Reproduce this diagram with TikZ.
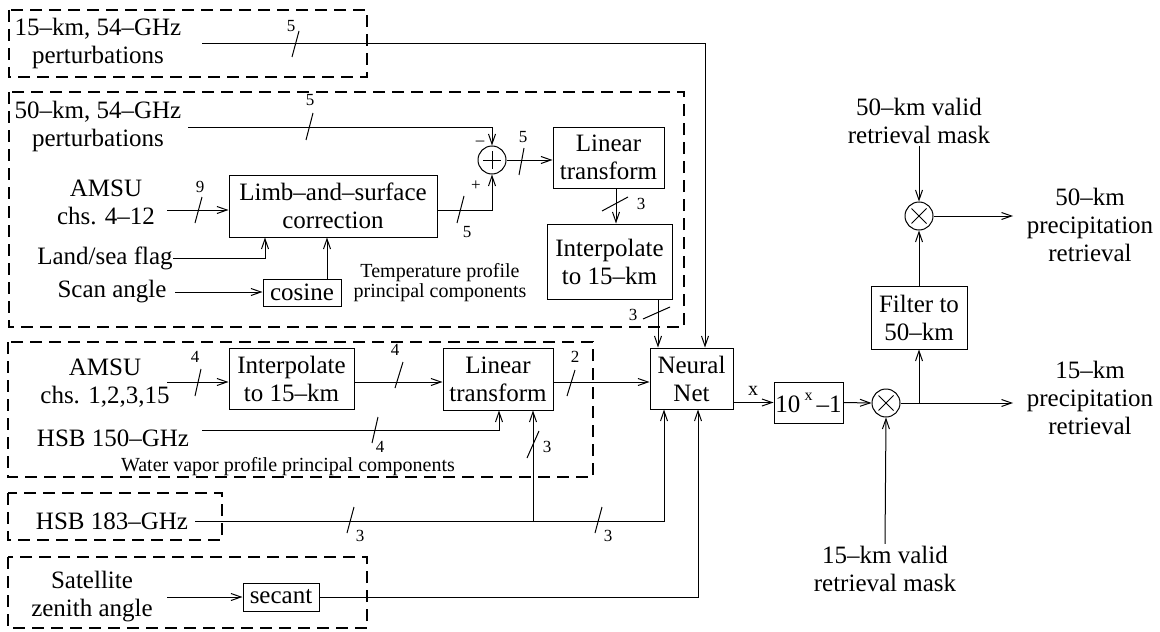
\documentclass[tikz,border=0pt]{standalone}
\usepackage{fontspec}
\setmainfont{Liberation Serif}
\usetikzlibrary{arrows.meta,calc,positioning}

\begin{document}
\begin{tikzpicture}[x=0.5pt,y=-0.5pt,
  font=\fontsize{12.5}{14}\selectfont,
  blk/.style={draw,line width=0.5pt,inner sep=0pt,align=center},
  sumnode/.style={draw,circle,line width=0.5pt,minimum size=14pt,inner sep=0pt},
  lbl/.style={align=center,inner sep=1pt},
  small/.style={align=center,inner sep=0pt,font=\fontsize{10}{10}\selectfont},
  bus/.style={inner sep=0pt,font=\fontsize{8.5}{9}\selectfont},
  grp/.style={line width=1pt,dash pattern=on 6pt off 3.5pt},
  conn/.style={line width=0.5pt,-{Straight Barb[length=5pt,width=3.5pt]}},
  wire/.style={line width=0.5pt}]
  \useasboundingbox (0,0) rectangle (1160,631);

  % group frames
  \draw[grp] (9,10) rectangle (367,77);
  \draw[grp] (9,92) rectangle (684,327);
  \draw[grp] (8,342) rectangle (593,477);
  \draw[grp] (8,493) rectangle (222,540);
  \draw[grp] (8,557) rectangle (367,628);

  % inputs
  \node[lbl] (in15) at (98,43) {15--km, 54--GHz\\perturbations};
  \node[lbl] (in50) at (98,126) {50--km, 54--GHz\\perturbations};
  \node[lbl] (amsuT) at (106,202) {AMSU\\chs. 4--12};
  \node[lbl] (land) at (105,258) {Land/sea flag};
  \node[lbl] (scan) at (112,292) {Scan angle};
  \node[lbl] (amsuW) at (105,383) {AMSU\\chs. 1,2,3,15};
  \node[lbl] (hsb150) at (113,438) {HSB 150--GHz};
  \node[lbl] (hsb183) at (112,521) {HSB 183--GHz};
  \node[lbl] (sat) at (92,597) {Satellite\\zenith angle};

  % processing blocks
  \node[blk,minimum width=104pt,minimum height=31pt] (limb) at (333,206) {Limb--and--surface\\correction};
  \node[sumnode] (sum) at (492,160) {};
  \node[blk,minimum width=55.5pt,minimum height=30.5pt] (linT) at (608.5,157.5) {Linear\\transform};
  \node[blk,minimum width=62.5pt,minimum height=37.5pt] (intT) at (609.5,261.5) {Interpolate\\to 15--km};
  \node[blk,minimum width=39pt,minimum height=13.5pt] (cosine) at (302,292.5) {cosine};
  \node[small] (tempLbl) at (440,283) {Temperature profile\\principal components};
  \node[blk,minimum width=62.5pt,minimum height=30.5pt] (intW) at (291.5,378.5) {Interpolate\\to 15--km};
  \node[blk,minimum width=55pt,minimum height=31pt] (linW) at (498,379) {Linear\\transform};
  \node[small] (wvLbl) at (288,467) {Water vapor profile principal components};
  \node[blk,minimum width=38pt,minimum height=14pt] (secant) at (281,597) {secant};
  \node[blk,minimum width=41.5pt,minimum height=30.5pt] (nn) at (691.5,378.5) {Neural\\Net};
  \node[blk,minimum width=34.5pt,minimum height=20.5pt] (pow) at (808.5,402.5)
    {10\,\raisebox{6pt}{\fontsize{8}{8}\selectfont x}\,--1};
  \node[sumnode] (mulB) at (886,403) {};
  \node[blk,minimum width=48pt,minimum height=31.5pt] (filt) at (919,317.5) {Filter to\\50--km};
  \node[sumnode] (mulA) at (919,216) {};

  % masks and outputs
  \node[lbl] (mask50) at (919,121) {50--km valid\\retrieval mask};
  \node[lbl] (mask15) at (885,569) {15--km valid\\retrieval mask};
  \node[lbl] (out50) at (1090,225) {50--km\\precipitation\\retrieval};
  \node[lbl] (out15) at (1090,398) {15--km\\precipitation\\retrieval};

  % plus and times marks
  \draw[wire] ($(sum)+(-9,0)$) -- ($(sum)+(9,0)$) ($(sum)+(0,-9)$) -- ($(sum)+(0,9)$);
  \draw[wire] ($(mulA)+(-7.5,-7.5)$) -- ($(mulA)+(7.5,7.5)$) ($(mulA)+(-7.5,7.5)$) -- ($(mulA)+(7.5,-7.5)$);
  \draw[wire] ($(mulB)+(-7.5,-7.5)$) -- ($(mulB)+(7.5,7.5)$) ($(mulB)+(-7.5,7.5)$) -- ($(mulB)+(7.5,-7.5)$);
  \node[bus] (minus) at (480,143) {--};
  \node[bus] (plus) at (476,186) {+};

  % connectors
  \coordinate (s15) at (202,44);
  \draw[conn] (s15) -| ($(nn.north)+(13.5,0)$);
  \coordinate (s50) at (188,127);
  \draw[conn] (s50) -| (sum.north);
  \coordinate (sT) at (167,210);
  \draw[conn] (sT) -- (sT -| limb.west);
  \draw[conn] ($(limb.east)+(0,4)$) -| (sum.south);
  \draw[conn] (sum.east) -- (sum.east -| linT.west);
  \draw[conn] ($(linT.south)+(7.5,0)$) -- ($(intT.north)+(6.5,0)$);
  \draw[conn] ($(intT.south)+(48.5,0)$) -- ($(nn.north)+(-33.5,0)$);
  \coordinate (sL) at (173,258);
  \draw[conn] (sL) -| ($(limb.south)+(-68,0)$);
  \coordinate (sS) at (175,292);
  \draw[conn] (sS) -- (sS -| cosine.west);
  \draw[conn] ($(cosine.north)+(25,0)$) -- ($(limb.south)+(-6,0)$);
  \coordinate (sW) at (167,382);
  \draw[conn] (sW) -- (sW -| intW.west);
  \draw[conn] ($(intW.east)+(0,3.5)$) -- ($(linW.west)+(0,3)$);
  \coordinate (sH) at (202,430);
  \draw[conn] (sH) -| ($(linW.south)+(1,0)$);
  \draw[conn] ($(linW.east)+(0,3)$) -- ($(nn.west)+(0,3.5)$);
  \coordinate (sG) at (195,521);
  \draw[conn] (sG) -| ($(nn.south)+(-27.5,0)$);
  \coordinate (brTop) at ($(linW.south)+(35,0)$);
  \draw[conn] (brTop |- sG) -- (brTop);
  \coordinate (sZ) at (167,597);
  \draw[conn] (sZ) -- (sZ -| secant.west);
  \draw[conn] (secant.east) -| ($(nn.south)+(6.5,0)$);
  \draw[conn] (pow.west -| nn.east) -- (pow.west);
  \node[bus,font=\fontsize{10}{10}\selectfont] (xl) at (753,391) {x};
  \draw[conn] (pow.east) -- (mulB.west);
  \draw[conn] (mask15.north) -- (mulB.south);
  \coordinate (o15) at (1013,403);
  \draw[conn] (mulB.east) -- (o15);
  \draw[conn] (mulB.east -| filt.south) -- (filt.south);
  \draw[conn] (filt.north) -- (mulA.south);
  \draw[conn] (mask50.south) -- (mulA.north);
  \coordinate (o50) at (1013,216);
  \draw[conn] (mulA.east) -- (o50);

  % bus widths
  \draw[wire] (292,57) -- (299,31);   \node[bus] (w1) at (291,26) {5};
  \draw[wire] (306,140) -- (313,113); \node[bus] (w2) at (310,100) {5};
  \draw[wire] (195,223) -- (202,197); \node[bus] (w3) at (200,187) {9};
  \draw[wire] (457,223) -- (464,196); \node[bus] (w4) at (467,232) {5};
  \draw[wire] (519,175) -- (524,148); \node[bus] (w5) at (523,137) {5};
  \draw[wire] (602,211) -- (628,197); \node[bus] (w6) at (641,204) {3};
  \draw[wire] (643,319) -- (670,307); \node[bus] (w7) at (633,315) {3};
  \draw[wire] (195,396) -- (201,369); \node[bus] (w8) at (195,357) {4};
  \draw[wire] (395,388) -- (403,362); \node[bus] (w9) at (395,350) {4};
  \draw[wire] (372,443) -- (378,417); \node[bus] (w10) at (380,447) {4};
  \draw[wire] (567,396) -- (575,370); \node[bus] (w11) at (575,357) {2};
  \draw[wire] (527,458) -- (539,431); \node[bus] (w12) at (547,447) {3};
  \draw[wire] (347,533) -- (354,507); \node[bus] (w13) at (360,536) {3};
  \draw[wire] (595,533) -- (602,507); \node[bus] (w14) at (608,536) {3};
\end{tikzpicture}
\end{document}
